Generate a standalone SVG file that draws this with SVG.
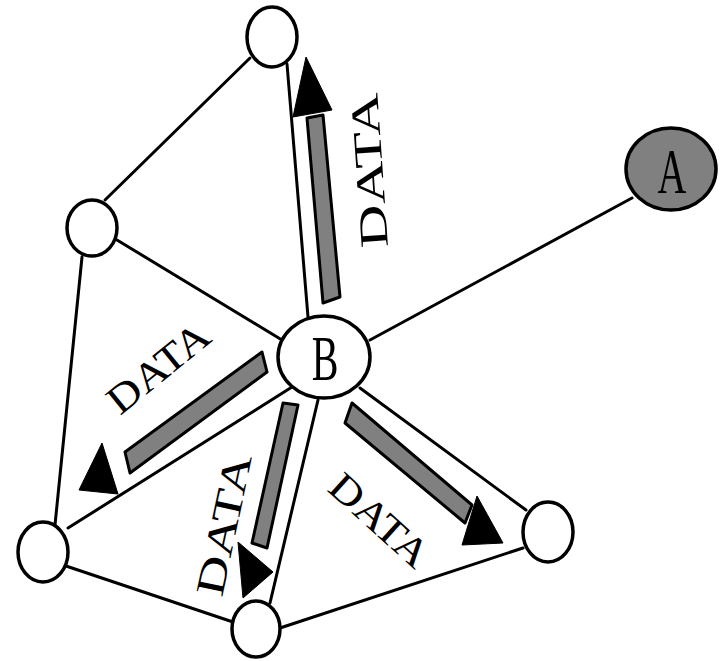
<svg xmlns="http://www.w3.org/2000/svg" width="720" height="661" viewBox="0 0 720 661">
<style>
.e{stroke:#000;stroke-width:3;fill:none;stroke-linecap:round}
.n{fill:#fff;stroke:#000;stroke-width:3.5}
.bar{fill:#808080;stroke:#000;stroke-width:3;stroke-linejoin:round}
.hd{fill:#000;stroke:#000;stroke-width:1}
.t{font-family:"Liberation Serif","Times New Roman",serif;font-size:40px;fill:#000}
</style>
<rect width="720" height="661" fill="#fff"/>
<g id="connectors">
<line class="e" x1="105" y1="200" x2="250" y2="58"/>
<line class="e" x1="117" y1="240" x2="282" y2="340"/>
<line class="e" x1="82" y1="257" x2="55" y2="525"/>
<line class="e" x1="68" y1="528" x2="292" y2="387"/>
<line class="e" x1="66" y1="566" x2="233" y2="622"/>
<line class="e" x1="280" y1="628" x2="523" y2="548"/>
<line class="e" x1="360" y1="388" x2="526" y2="510"/>
<line class="e" x1="370" y1="340" x2="632" y2="198"/>
<line class="e" x1="287" y1="64" x2="308" y2="317"/>
<line class="e" x1="318" y1="400" x2="270" y2="603"/>
</g>
<g id="arrow-up">
<polygon class="bar" points="307,118 323,115 340,297 323,303"/>
<polygon class="hd" points="306,57 332,110 293,117"/>
<text class="t" transform="translate(388,247) rotate(-94)" textLength="155" lengthAdjust="spacingAndGlyphs">DATA</text>
</g>
<g id="arrow-left">
<polygon class="bar" points="262,352 267,372 130,473 125,452"/>
<polygon class="hd" points="102,443 118,494 79,490"/>
<text class="t" transform="translate(120,416) rotate(-39)" textLength="120" lengthAdjust="spacingAndGlyphs">DATA</text>
</g>
<g id="arrow-down">
<polygon class="bar" points="283,403 298,405 267,548 252,543"/>
<polygon class="hd" points="238,542 273,572 243,598"/>
<text class="t" transform="translate(222,598) rotate(-78)" textLength="144" lengthAdjust="spacingAndGlyphs">DATA</text>
</g>
<g id="arrow-right">
<polygon class="bar" points="352,403 472,505 465,523 345,423"/>
<polygon class="hd" points="477,496 503,543 462,545"/>
<text class="t" transform="translate(326,490) rotate(42)" textLength="120" lengthAdjust="spacingAndGlyphs">DATA</text>
</g>
<g id="node-top"><ellipse class="n" cx="272" cy="37" rx="25" ry="30"/></g>
<g id="node-left"><ellipse class="n" cx="92" cy="228" rx="25" ry="28"/></g>
<g id="node-bottomleft"><ellipse class="n" cx="43" cy="552" rx="25" ry="30"/></g>
<g id="node-bottom"><ellipse class="n" cx="256" cy="629" rx="24" ry="28"/></g>
<g id="node-right"><ellipse class="n" cx="548" cy="532" rx="25" ry="30"/></g>
<g id="node-B"><ellipse class="n" cx="324" cy="357" rx="46" ry="41"/>
<text class="t" transform="translate(325,380) scale(1,1.6)" text-anchor="middle" font-size="36">B</text></g>
<g id="node-A"><ellipse class="n" cx="671" cy="169" rx="45" ry="41" fill="#808080" style="fill:#808080"/>
<text class="t" transform="translate(672,193) scale(1,1.6)" text-anchor="middle" font-size="36">A</text></g>
</svg>
